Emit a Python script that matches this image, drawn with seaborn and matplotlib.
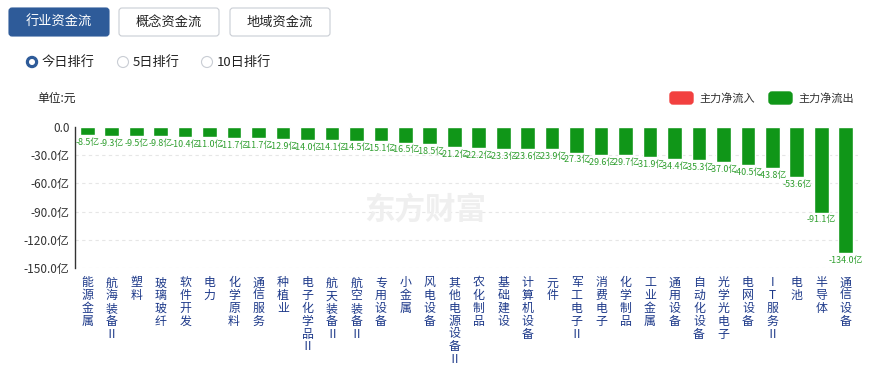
import matplotlib
matplotlib.use("Agg")
import matplotlib.pyplot as plt
from matplotlib.patches import FancyBboxPatch, Circle
import seaborn as sns
import pandas as pd

# industry net main-force flow, today (unit: 亿元)
industries = ["能源金属", "航海装备Ⅱ", "塑料", "玻璃玻纤", "软件开发", "电力", "化学原料", "通信服务",
              "种植业", "电子化学品Ⅱ", "航天装备Ⅱ", "航空装备Ⅱ", "专用设备", "小金属", "风电设备",
              "其他电源设备Ⅱ", "农化制品", "基础建设", "计算机设备", "元件", "军工电子Ⅱ", "消费电子",
              "化学制品", "工业金属", "通用设备", "自动化设备", "光学光电子", "电网设备", "IT服务Ⅱ",
              "电池", "半导体", "通信设备"]
net_flow = [-8.5, -9.3, -9.5, -9.8, -10.4, -11.0, -11.7, -11.7, -12.9, -14.0, -14.1, -14.5, -15.1,
            -16.5, -18.5, -21.2, -22.2, -23.3, -23.6, -23.9, -27.3, -29.6, -29.7, -31.9, -34.4,
            -35.3, -37.0, -40.5, -43.8, -53.6, -91.1, -134.0]
y_ticks = [0, -30, -60, -90, -120, -150]

GREEN = "#109618"
RED = "#f2403f"
BLUE = "#2e5b99"
NAVY = "#1e3a8a"

sns.set_theme(style="white")
plt.rcParams["font.family"] = ["Noto Sans CJK SC", "DejaVu Sans"]

df = pd.DataFrame({"industry": industries, "flow": net_flow})

fig = plt.figure(figsize=(8.76, 3.68), dpi=100)

# watermark behind the chart
fig.text(0.485, 0.43, "东方财富", fontsize=22, fontweight="bold", color="#efefef",
         ha="center", va="center", zorder=0)

ax = fig.add_axes([75 / 876, 100 / 368, 783 / 876, 141 / 368], facecolor="none")

sns.barplot(data=df, x="industry", y="flow", color=GREEN, saturation=1, width=0.6, ax=ax)
ax.set_ylim(-150, 0)
ax.set_xlim(-0.5, len(industries) - 0.5)
ax.set_yticks(y_ticks)
ax.set_yticklabels(["0.0"] + [f"{v:.1f}亿" for v in y_ticks[1:]], fontsize=8.5, color="#333333")
ax.set_xticks(range(len(industries)))
ax.set_xticklabels(["\n".join(list(s)) for s in industries],
                   fontsize=8.6, color=NAVY, va="top", linespacing=0.98)
ax.tick_params(axis="x", length=0, pad=6)
ax.tick_params(axis="y", length=0, pad=4)
ax.set_xlabel("")
ax.set_ylabel("")
for v in y_ticks[1:]:
    ax.axhline(v, color="#e6e6e6", lw=0.8, ls=(0, (3, 3)), zorder=0)
for side in ["top", "right", "bottom"]:
    ax.spines[side].set_visible(False)
ax.spines["left"].set_color("#333333")
ax.spines["left"].set_linewidth(1.0)

ax.bar_label(ax.containers[0], labels=[f"{v:.1f}亿" for v in net_flow],
             fontsize=6.4, color="#2e9e2e", padding=2)

# UI overlay in pixel coordinates
ui = fig.add_axes([0, 0, 1, 1], facecolor="none")
ui.set_xlim(0, 876)
ui.set_ylim(368, 0)
ui.axis("off")

buttons = ["行业资金流", "概念资金流", "地域资金流"]
for i, (x0, label) in enumerate(zip([9, 119, 230], buttons)):
    active = i == 0
    ui.add_patch(FancyBboxPatch((x0, 8), 100, 28, boxstyle="round,pad=0,rounding_size=3",
                                fc=BLUE if active else "white", ec=BLUE if active else "#c9cdd4", lw=0.8))
    ui.text(x0 + 50, 22.5, label, ha="center", va="center", fontsize=9.5,
            color="white" if active else "#222222")

radios = ["今日排行", "5日排行", "10日排行"]
for i, (cx, label) in enumerate(zip([32, 123, 207], radios)):
    if i == 0:
        ui.add_patch(Circle((cx, 62), 5.5, fc=BLUE, ec=BLUE))
        ui.add_patch(Circle((cx, 62), 2.3, fc="white", ec="white"))
    else:
        ui.add_patch(Circle((cx, 62), 5.5, fc="white", ec="#c9cdd4", lw=0.8))
    ui.text(cx + 10, 62, label, ha="left", va="center", fontsize=9.5, color="#222222")

ui.text(37, 98, "单位:元", ha="left", va="center", fontsize=8.5, color="#222222")

for x0, c, label in [(670, RED, "主力净流入"), (769, GREEN, "主力净流出")]:
    ui.add_patch(FancyBboxPatch((x0, 92), 23, 12, boxstyle="round,pad=0,rounding_size=3", fc=c, ec=c))
    ui.text(x0 + 29, 98, label, ha="left", va="center", fontsize=8, color="#333333")

fig.savefig("out.png", dpi=100)
